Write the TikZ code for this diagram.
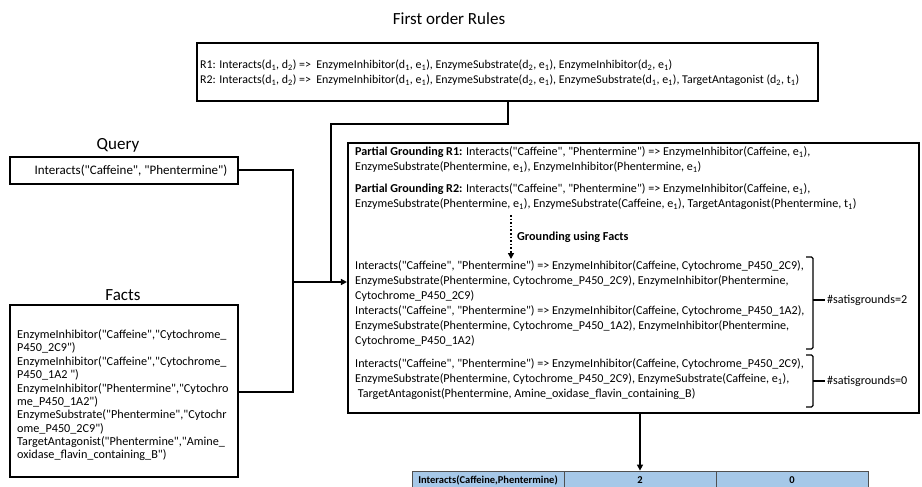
\documentclass[tikz,border=0pt]{standalone}
\usepackage{fontspec}
\setmainfont{Carlito}[Ligatures=TeXOff]
\usetikzlibrary{arrows.meta,calc}
\definecolor{cellblue}{HTML}{A6C8E8}
\definecolor{cellline}{HTML}{505050}
\newcommand{\sbs}[1]{\textsubscript{#1}}
\begin{document}
\begin{tikzpicture}[x=1pt,y=-1pt,
  box/.style={draw,line width=2.1pt,inner sep=0pt},
  conn/.style={line width=1.8pt},
  arr/.style={conn,-{Triangle[length=6pt,width=6pt]}},
  title/.style={inner sep=0pt,font=\fontsize{17}{20}\selectfont},
  txt/.style={anchor=north west,inner sep=0pt,align=left,font=\fontsize{12.1}{15}\selectfont},
  facttxt/.style={anchor=north west,inner sep=0pt,align=left,font=\fontsize{12.2}{13.35}\selectfont},
  lab/.style={anchor=west,inner sep=0pt,font=\fontsize{12.1}{14}\selectfont},
  brk/.style={line width=1.1pt,rounded corners=1.5pt},
  cell/.style={draw=cellline,line width=0.8pt,fill=cellblue,minimum width=152pt,minimum height=19pt,inner sep=0pt,font=\bfseries\fontsize{10.5}{12}\selectfont}
]
\useasboundingbox (0,0) rectangle (922,487);

% titles
\node[title] (trules) at (449,19) {First order Rules};
\node[title] (tquery) at (118,145) {Query};
\node[title] (tfacts) at (123,295) {Facts};

% rules box
\node[box,minimum width=621pt,minimum height=58pt] (rules) at (507.5,72) {};
\node[txt,font=\fontsize{11.9}{15}\selectfont] (rulestxt) at (200,60) {R1: Interacts(d\sbs{1}, d\sbs{2}) =>\ \ EnzymeInhibitor(d\sbs{1}, e\sbs{1}), EnzymeSubstrate(d\sbs{2}, e\sbs{1}), EnzymeInhibitor(d\sbs{2}, e\sbs{1})\\
R2: Interacts(d\sbs{1}, d\sbs{2}) =>\ \ EnzymeInhibitor(d\sbs{1}, e\sbs{1}), EnzymeSubstrate(d\sbs{2}, e\sbs{1}), EnzymeSubstrate(d\sbs{1}, e\sbs{1}), TargetAntagonist (d\sbs{2}, t\sbs{1})};

% query box
\node[box,minimum width=228pt,minimum height=27pt] (query) at (124,170.5) {};
\node[inner sep=0pt,font=\fontsize{13}{15}\selectfont] (querytxt) at (131,171) {Interacts("Caffeine", "Phentermine")};

% facts box
\node[box,minimum width=228pt,minimum height=172pt] (facts) at (124,391) {};
\node[facttxt] (factstxt) at (17,329.5) {EnzymeInhibitor("Caffeine","Cytochrome\_\\
P450\_2C9")\\
EnzymeInhibitor("Caffeine","Cytochrome\_\\
P450\_1A2 ")\\
EnzymeInhibitor("Phentermine","Cytochro\\
me\_P450\_1A2")\\
EnzymeSubstrate("Phentermine","Cytochr\\
ome\_P450\_2C9")\\
TargetAntagonist("Phentermine","Amine\_\\
oxidase\_flavin\_containing\_B")};

% partial grounding box
\node[box,minimum width=571pt,minimum height=270pt] (pg) at (633.5,278) {};
\node[txt] (pg1) at (355,146.5) {\textbf{Partial Grounding R1:} Interacts("Caffeine", "Phentermine") => EnzymeInhibitor(Caffeine, e\sbs{1}),\\
EnzymeSubstrate(Phentermine, e\sbs{1}), EnzymeInhibitor(Phentermine, e\sbs{1})};
\node[txt] (pg2) at (355,183.5) {\textbf{Partial Grounding R2:} Interacts("Caffeine", "Phentermine") => EnzymeInhibitor(Caffeine, e\sbs{1}),\\
EnzymeSubstrate(Phentermine, e\sbs{1}), EnzymeSubstrate(Caffeine, e\sbs{1}), TargetAntagonist(Phentermine, t\sbs{1})};
\coordinate (dtop) at (511,215);
\coordinate (dbot) at (511,259);
\draw[line width=1.6pt,dotted,-{Triangle[length=6pt,width=6pt]}] (dtop) -- (dbot);
\node[anchor=west,inner sep=0pt,font=\bfseries\fontsize{12.2}{14}\selectfont] (gfacts) at (517,237) {Grounding using Facts};

\node[txt] (g1) at (355,260.5) {Interacts("Caffeine", "Phentermine") => EnzymeInhibitor(Caffeine, Cytochrome\_P450\_2C9),\\
EnzymeSubstrate(Phentermine, Cytochrome\_P450\_2C9), EnzymeInhibitor(Phentermine,\\
Cytochrome\_P450\_2C9)\\
Interacts("Caffeine", "Phentermine") => EnzymeInhibitor(Caffeine, Cytochrome\_P450\_1A2),\\
EnzymeSubstrate(Phentermine, Cytochrome\_P450\_1A2), EnzymeInhibitor(Phentermine,\\
Cytochrome\_P450\_1A2)};
\node[txt] (g2) at (355,358.5) {Interacts("Caffeine", "Phentermine") => EnzymeInhibitor(Caffeine, Cytochrome\_P450\_2C9),\\
EnzymeSubstrate(Phentermine, Cytochrome\_P450\_2C9), EnzymeSubstrate(Caffeine, e\sbs{1}),\\
\ TargetAntagonist(Phentermine, Amine\_oxidase\_flavin\_containing\_B)};

% brackets
\coordinate (b1t) at (813,257);
\coordinate (b1b) at (813,349);
\coordinate (b1m) at (813,300);
\draw[brk] ($(b1t)+(-7,0)$) -- (b1t) -- (b1b) -- ($(b1b)+(-7,0)$);
\node[lab] (s2) at (827,300) {\#satisgrounds=2};
\draw[line width=1.1pt] (b1m) -- ($(s2.west)+(-2.5,0)$);
\coordinate (b2t) at (813,355);
\coordinate (b2b) at (813,407);
\coordinate (b2m) at (813,381);
\draw[brk] ($(b2t)+(-7,0)$) -- (b2t) -- (b2b) -- ($(b2b)+(-7,0)$);
\node[lab] (s0) at (827,381) {\#satisgrounds=0};
\draw[line width=1.1pt] (b2m) -- ($(s0.west)+(-2.5,0)$);

% table
\node[cell] (c1) at (488,480.5) {Interacts(Caffeine,Phentermine)};
\node[cell] (c2) at (640,480.5) {2};
\node[cell] (c3) at (792,480.5) {0};

% connectors
\coordinate (j1) at (508,124);
\coordinate (j2) at (331,124);
\coordinate (merge) at (331,282);
\coordinate (qj) at (293,170);
\coordinate (fj) at (293,392);
\coordinate (hj) at (293,282);
\draw[conn] (rules.south -| j1) -- (j1) -- (j2) -- (merge);
\draw[conn] (query.east |- qj) -- (qj) -- (fj) -- (facts.east |- fj);
\draw[arr] (hj) -- (pg.west |- hj);
\draw[arr] (pg.south -| c2) -- (c2.north);
\end{tikzpicture}
\end{document}
